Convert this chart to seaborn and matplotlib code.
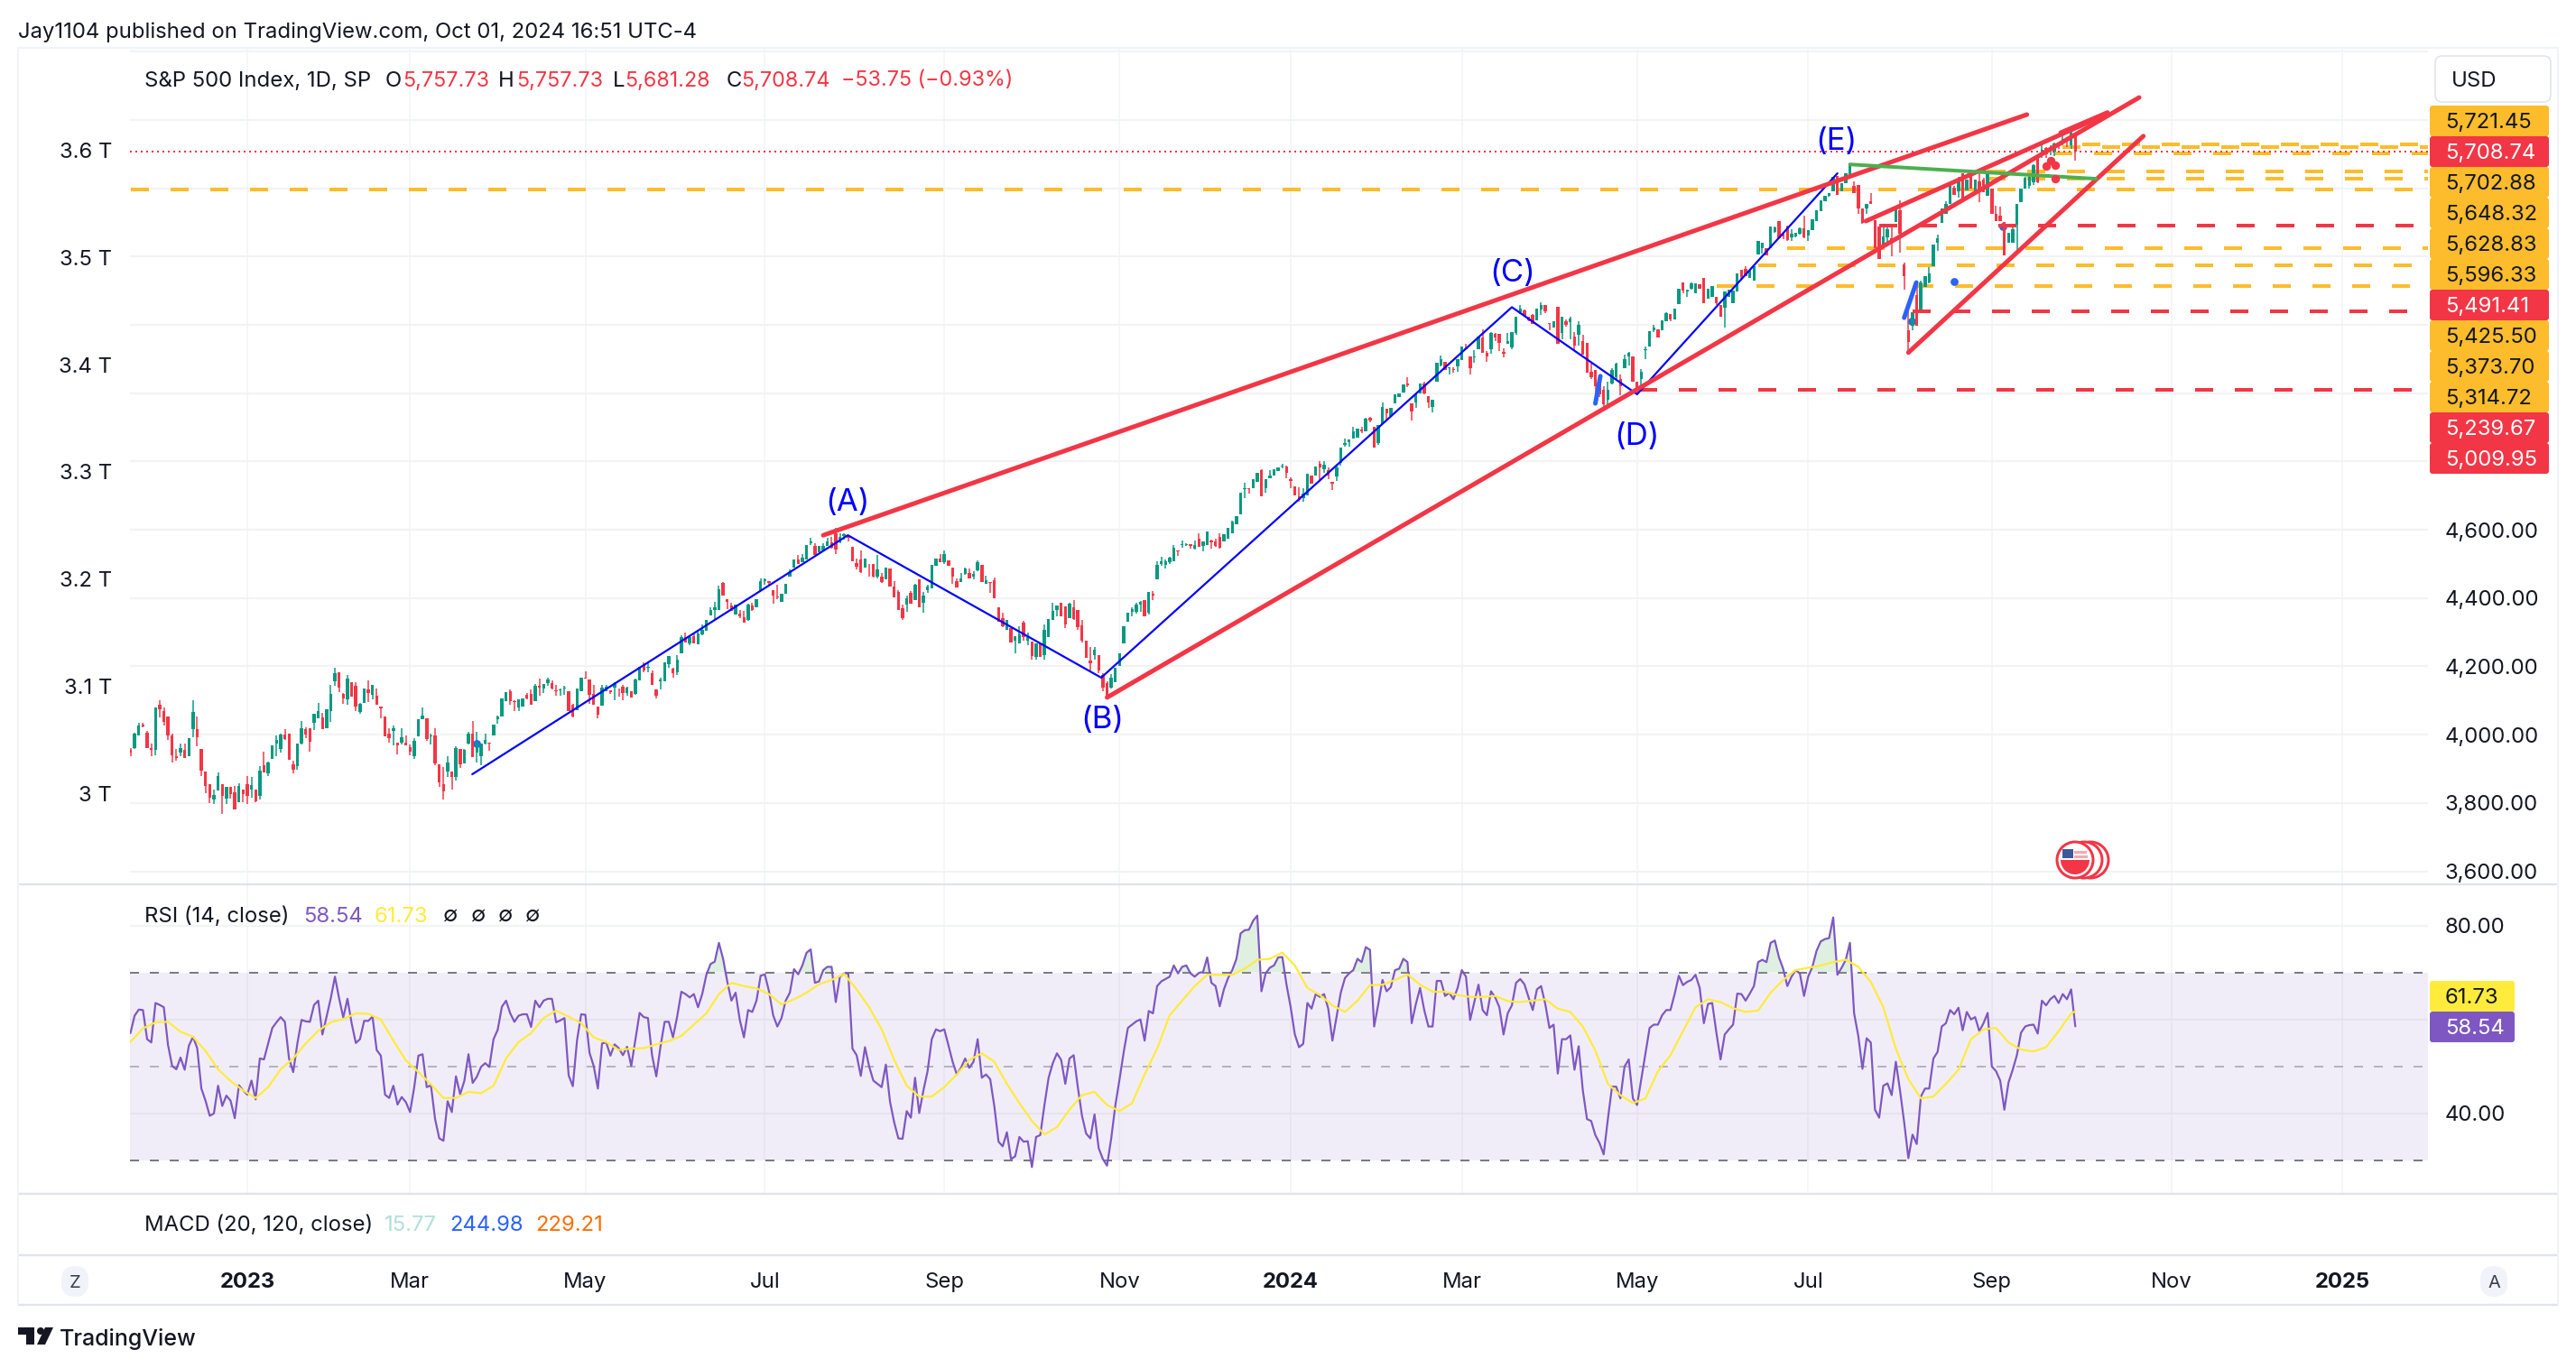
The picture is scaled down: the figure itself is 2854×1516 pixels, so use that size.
import numpy as np
import matplotlib
matplotlib.use("Agg")
import matplotlib.pyplot as plt
from matplotlib.patches import FancyBboxPatch, Rectangle, Circle, Wedge, Polygon
import seaborn as sns

# candles, ten bars per line, first bar sits 28 sessions before 3 Jan 2023
opens = [
    3956,3960,3999,4030,4006,3962,3956,4088,4070,4052,
    3997,3936,3947,3955,3938,4017,4015,3958,3892,3854,
    3809,3837,3854,3813,3846,3831,3803,3839,3854,3839,
    3839,3822,3910,3888,3930,3974,3958,4000,4002,3912,
    3907,3975,4015,4018,4035,4048,4050,4019,4068,4155,
    4182,4118,4103,4154,4142,4066,4092,4133,4116,4113,
    4081,4053,4002,4011,3977,3977,3977,3964,3938,3996,
    4046,4048,3995,3997,3912,3855,3892,3892,3875,3958,
    3917,3973,4002,3947,3936,3974,3977,3997,4046,4053,
    4098,4127,4098,4079,4082,4116,4120,4098,4142,4135,
    4151,4151,4131,4130,4135,4126,4088,4072,4127,4168,
    4162,4120,4081,4085,4127,4130,4138,4136,4140,4123,
    4127,4120,4158,4206,4196,4180,4133,4155,4155,4206,
    4193,4182,4239,4287,4267,4289,4265,4294,4305,4350,
    4365,4364,4444,4397,4377,4353,4355,4344,4336,4377,
    4372,4421,4450,4450,4423,4406,4390,4412,4464,4488,
    4512,4504,4514,4561,4552,4534,4539,4552,4563,4591,
    4563,4581,4581,4549,4502,4512,4490,4501,4499,4463,
    4463,4454,4486,4434,4419,4370,4380,4416,4394,4456,
    4386,4423,4429,4495,4517,4505,4511,4488,4449,4447,
    4471,4473,4464,4482,4497,4443,4447,4453,4374,4342,
    4307,4313,4274,4267,4329,4276,4272,4228,4266,4232,
    4287,4337,4364,4386,4375,4342,4374,4364,4320,4274,
    4216,4232,4232,4174,4152,4137,4154,4200,4267,4331,
    4359,4359,4381,4393,4357,4412,4456,4500,4496,4505,
    4509,4540,4556,4556,4558,4544,4574,4553,4556,4568,
    4567,4580,4567,4575,4591,4615,4644,4718,4723,4723,
    4741,4776,4721,4752,4759,4771,4785,4785,4747,4727,
    4699,4694,4701,4758,4758,4793,4778,4774,4741,4756,
    4796,4850,4857,4866,4869,4893,4888,4928,4901,4853,
    4910,4954,4932,4969,4989,5001,5029,4970,4974,5000,
    5029,4991,4961,5035,5082,5093,5073,5071,5079,5097,
    5132,5108,5106,5130,5164,5119,5129,5173,5173,5122,
    5146,5135,5176,5236,5242,5223,5229,5214,5244,5259,
    5206,5193,5254,5177,5210,5208,5166,5170,5153,5148,
    5064,5069,5034,5011,4981,5029,5047,5042,5073,5109,
    5109,5034,5042,5126,5138,5185,5188,5184,5210,5232,
    5217,5260,5325,5298,5305,5294,5318,5338,5278,5281,
    5281,5259,5250,5281,5263,5298,5362,5365,5338,5329,
    5406,5426,5426,5426,5473,5503,5466,5488,5457,5459,
    5468,5484,5462,5477,5503,5532,5563,5577,5590,5637,
    5590,5616,5638,5607,5609,5541,5541,5563,5506,5488,
    5429,5457,5453,5501,5537,5378,5185,5197,5288,5237,
    5312,5325,5373,5440,5500,5526,5554,5603,5590,5643,
    5594,5643,5590,5620,5625,5579,5599,5526,5519,5501,
    5440,5440,5494,5559,5599,5607,5617,5689,5702,5719,
    5707,5708,5730,5733,5745,5727,5757.73,
]
highs = [
    3962,4006,4034,4034,4012,3975,4079,4100,4079,4052,
    4002,3958,3974,3975,3989,4100,4053,3958,3892,3854,
    3840,3890,3854,3848,3848,3851,3857,3839,3879,3875,
    3839,3907,3949,3921,3969,3997,4002,4015,4002,3923,
    3974,4039,4021,4018,4060,4094,4063,4075,4146,4195,
    4182,4123,4175,4154,4154,4094,4136,4158,4146,4136,
    4081,4053,4018,4028,3977,4018,3997,3971,3989,4046,
    4079,4048,4002,4018,3912,3905,3936,3892,3967,3958,
    3958,4008,4040,4008,3973,4002,3977,4030,4056,4107,
    4125,4132,4100,4104,4107,4123,4133,4149,4163,4149,
    4168,4158,4146,4136,4142,4126,4090,4136,4168,4186,
    4162,4146,4081,4147,4145,4130,4154,4136,4145,4140,
    4127,4164,4199,4212,4208,4187,4133,4167,4211,4230,
    4197,4234,4291,4300,4288,4300,4302,4323,4337,4372,
    4390,4437,4448,4397,4387,4381,4365,4362,4383,4386,
    4396,4457,4457,4450,4423,4438,4412,4442,4485,4512,
    4526,4530,4556,4576,4561,4552,4561,4576,4578,4605,
    4590,4591,4584,4549,4517,4539,4517,4501,4501,4526,
    4473,4488,4486,4450,4422,4381,4408,4420,4443,4456,
    4418,4438,4498,4517,4530,4539,4511,4488,4457,4473,
    4488,4486,4478,4511,4497,4465,4447,4460,4374,4357,
    4337,4313,4289,4317,4333,4300,4272,4267,4266,4323,
    4339,4386,4377,4386,4375,4385,4395,4364,4337,4274,
    4256,4258,4232,4181,4157,4177,4195,4239,4318,4357,
    4373,4386,4392,4393,4418,4421,4507,4521,4514,4520,
    4556,4540,4568,4561,4558,4568,4589,4567,4596,4571,
    4575,4589,4587,4606,4626,4641,4708,4737,4723,4747,
    4767,4778,4749,4774,4778,4782,4794,4789,4753,4727,
    4725,4721,4763,4760,4785,4800,4802,4782,4741,4791,
    4841,4868,4864,4901,4895,4901,4928,4931,4901,4906,
    4974,4954,4957,4996,5000,5027,5047,4970,5000,5029,
    5035,4991,4981,5088,5110,5093,5077,5077,5100,5137,
    5146,5108,5126,5166,5188,5123,5179,5176,5173,5132,
    5176,5179,5225,5258,5245,5225,5232,5247,5265,5259,
    5206,5212,5254,5223,5215,5225,5179,5210,5170,5148,
    5087,5069,5051,5020,5034,5073,5088,5056,5113,5122,
    5109,5034,5071,5137,5181,5199,5188,5213,5238,5232,
    5247,5307,5325,5303,5325,5322,5318,5338,5307,5313,
    5281,5259,5298,5303,5300,5351,5362,5373,5360,5373,
    5447,5441,5426,5488,5488,5503,5466,5490,5479,5471,
    5485,5521,5477,5509,5535,5566,5577,5585,5634,5637,
    5616,5643,5669,5620,5609,5541,5554,5585,5506,5488,
    5488,5486,5488,5550,5565,5382,5245,5237,5329,5329,
    5343,5369,5435,5464,5541,5561,5606,5606,5634,5643,
    5625,5643,5625,5643,5632,5650,5599,5550,5546,5501,
    5470,5497,5554,5599,5634,5636,5670,5689,5733,5720,
    5725,5735,5730,5767,5750,5767,5757.73,
]
lows = [
    3936,3958,3997,4021,3960,3938,3940,4050,4026,3984,
    3918,3923,3936,3932,3938,3993,3967,3879,3829,3800,
    3797,3837,3767,3798,3813,3782,3803,3803,3796,3816,
    3803,3811,3890,3879,3930,3938,3947,3984,3927,3888,
    3898,3971,3989,3951,4013,4048,4017,4019,4037,4142,
    4125,4091,4087,4111,4069,4061,4092,4096,4104,4087,
    4047,3995,3977,3969,3943,3971,3969,3939,3929,3996,
    4046,3982,3971,3910,3848,3811,3875,3839,3866,3903,
    3917,3971,3934,3918,3911,3971,3953,3997,4032,4053,
    4098,4087,4070,4069,4082,4103,4088,4098,4114,4122,
    4142,4133,4114,4114,4116,4069,4050,4072,4127,4164,
    4089,4088,4047,4085,4127,4119,4101,4112,4101,4114,
    4110,4116,4158,4182,4182,4145,4106,4132,4155,4195,
    4168,4174,4239,4269,4263,4266,4265,4292,4305,4349,
    4337,4364,4408,4368,4362,4353,4342,4327,4333,4362,
    4372,4421,4440,4436,4384,4397,4390,4412,4463,4488,
    4499,4504,4514,4556,4526,4534,4537,4552,4546,4530,
    4561,4572,4565,4508,4484,4473,4490,4463,4460,4458,
    4445,4454,4434,4403,4364,4337,4361,4384,4394,4374,
    4358,4416,4429,4495,4505,4499,4495,4443,4431,4447,
    4469,4457,4454,4480,4447,4443,4415,4400,4330,4316,
    4307,4269,4239,4267,4276,4261,4219,4221,4228,4221,
    4287,4337,4346,4346,4313,4342,4337,4307,4271,4225,
    4188,4221,4181,4128,4104,4135,4154,4200,4267,4331,
    4346,4355,4359,4346,4353,4395,4456,4494,4487,4500,
    4509,4524,4547,4554,4545,4542,4549,4538,4556,4546,
    4551,4546,4567,4575,4591,4615,4644,4694,4706,4723,
    4741,4697,4709,4751,4759,4771,4781,4752,4723,4700,
    4683,4683,4701,4736,4758,4741,4767,4749,4716,4743,
    4789,4844,4844,4866,4869,4882,4888,4915,4842,4850,
    4910,4919,4932,4969,4989,5001,5018,4921,4956,5000,
    4996,4956,4945,5035,5078,5069,5055,5060,5062,5097,
    5129,5055,5090,5130,5117,5091,5115,5153,5123,5104,
    5146,5130,5170,5232,5227,5212,5203,5214,5229,5235,
    5184,5193,5144,5157,5195,5159,5126,5140,5113,5060,
    5042,4994,4989,4952,4967,5025,5042,4994,5073,5082,
    5034,5000,5011,5101,5138,5179,5164,5184,5210,5212,
    5217,5260,5294,5283,5303,5294,5307,5263,5278,5281,
    5259,5223,5192,5281,5263,5298,5329,5343,5338,5329,
    5406,5408,5404,5426,5470,5453,5452,5445,5447,5456,
    5465,5453,5447,5477,5503,5532,5563,5575,5590,5581,
    5590,5616,5638,5585,5525,5497,5524,5554,5426,5393,
    5429,5435,5400,5501,5411,5303,5122,5185,5197,5237,
    5312,5323,5373,5418,5500,5526,5554,5581,5572,5563,
    5594,5599,5590,5559,5588,5579,5526,5503,5504,5404,
    5440,5440,5406,5559,5599,5600,5610,5615,5690,5690,
    5698,5695,5715,5725,5720,5715,5681.28,
]
closes = [
    3947,4004,4026,4025,3960,3955,4079,4074,4037,3997,
    3940,3932,3962,3933,3989,4067,3993,3895,3851,3816,
    3824,3879,3822,3846,3826,3782,3849,3826,3822,3853,
    3804,3895,3890,3918,3969,3984,4000,3987,3927,3898,
    3974,4018,4000,3980,4060,4070,4017,4075,4118,4179,
    4138,4107,4163,4111,4081,4091,4136,4123,4146,4087,
    4078,3995,3990,4018,3969,3993,3969,3951,3982,4046,
    4055,3986,3997,3917,3861,3835,3918,3875,3962,3914,
    3955,4004,3934,3980,3973,3984,3974,4030,4053,4107,
    4125,4098,4096,4104,4107,4107,4088,4144,4138,4149,
    4161,4136,4127,4133,4139,4069,4052,4136,4168,4164,
    4116,4088,4059,4138,4140,4125,4149,4134,4123,4138,
    4110,4162,4199,4189,4198,4145,4114,4162,4211,4230,
    4180,4221,4285,4269,4285,4266,4296,4307,4337,4365,
    4372,4425,4408,4390,4362,4381,4346,4327,4381,4365,
    4396,4450,4456,4444,4407,4402,4412,4442,4477,4512,
    4499,4519,4556,4565,4527,4552,4554,4565,4548,4541,
    4580,4587,4576,4508,4491,4475,4517,4499,4463,4485,
    4447,4488,4434,4403,4366,4342,4399,4384,4440,4374,
    4408,4435,4498,4517,4505,4530,4495,4463,4431,4458,
    4486,4457,4471,4506,4447,4453,4444,4400,4330,4318,
    4337,4269,4289,4294,4287,4285,4230,4267,4228,4307,
    4339,4362,4377,4346,4324,4383,4339,4315,4276,4225,
    4210,4249,4188,4137,4108,4166,4195,4239,4318,4357,
    4368,4380,4389,4346,4417,4408,4496,4507,4509,4518,
    4547,4538,4558,4559,4553,4556,4549,4567,4596,4562,
    4553,4547,4587,4606,4624,4641,4708,4723,4718,4747,
    4767,4697,4747,4758,4778,4782,4789,4767,4744,4700,
    4688,4707,4763,4736,4785,4782,4791,4760,4736,4782,
    4840,4855,4864,4888,4895,4888,4926,4921,4842,4906,
    4959,4941,4957,4996,5000,5027,5023,4947,4998,5029,
    5000,4972,4981,5088,5100,5069,5077,5069,5100,5137,
    5129,5073,5108,5166,5119,5108,5176,5164,5148,5115,
    5152,5179,5225,5249,5227,5214,5203,5247,5259,5241,
    5203,5212,5144,5223,5200,5219,5140,5201,5113,5060,
    5047,5020,4998,4967,5011,5069,5087,5020,5100,5117,
    5034,5011,5064,5130,5181,5192,5164,5213,5235,5215,
    5247,5307,5300,5303,5323,5322,5307,5263,5307,5313,
    5263,5223,5298,5303,5300,5351,5340,5343,5360,5373,
    5447,5441,5404,5488,5486,5453,5459,5449,5468,5471,
    5482,5457,5477,5509,5535,5566,5577,5585,5634,5581,
    5616,5643,5669,5585,5541,5500,5554,5554,5426,5393,
    5459,5479,5440,5550,5466,5343,5150,5237,5197,5325,
    5343,5351,5435,5455,5541,5554,5606,5581,5625,5563,
    5625,5599,5625,5590,5588,5650,5526,5503,5504,5404,
    5470,5480,5554,5599,5630,5634,5669,5618,5714,5700,
    5718,5732,5722,5745,5738,5762,5708.74,
]

rsi_values = [
    57.1,60.8,62.1,62.0,55.8,55.1,63.5,63.1,62.6,54.6,
    50.1,49.4,51.9,49.3,54.4,56.3,53.9,45.3,42.7,39.5,
    40.0,45.9,41.6,43.8,42.7,39.0,46.0,44.9,44.0,47.0,
    43.0,51.7,51.5,54.9,58.2,59.4,60.5,59.5,51.7,48.8,
    54.9,59.9,59.6,59.5,63.1,64.0,56.8,60.6,64.5,69.1,
    64.5,60.4,64.4,59.2,55.0,55.8,59.7,59.7,60.6,53.5,
    52.3,44.0,43.3,45.9,41.9,43.5,42.4,40.3,45.6,52.3,
    52.6,45.6,46.0,38.8,34.7,34.2,42.6,40.3,47.9,44.1,
    46.9,52.6,46.5,47.8,49.9,50.7,49.9,55.8,57.8,62.7,
    64.0,61.3,59.5,60.8,61.1,61.1,58.4,64.0,62.6,64.0,
    64.4,64.4,59.4,59.8,60.3,48.1,45.8,55.5,61.1,61.0,
    52.9,50.1,45.3,54.9,55.1,52.3,54.7,53.9,52.4,54.2,
    50.1,55.8,61.4,60.5,60.3,52.3,47.9,54.2,59.5,59.5,
    56.2,60.6,65.9,65.4,64.7,65.4,62.6,65.4,69.5,71.8,
    72.3,76.3,72.9,68.1,64.0,65.7,59.9,56.2,62.0,61.6,
    64.0,69.3,69.6,66.0,60.9,58.5,60.3,64.0,65.7,70.7,
    69.6,71.5,74.2,74.9,67.8,68.1,70.5,71.2,71.2,63.7,
    69.1,69.8,69.8,53.8,52.4,48.0,54.1,50.0,47.0,46.3,
    45.6,50.4,42.5,38.1,34.7,34.6,40.5,39.1,47.6,40.1,
    44.9,49.0,55.8,57.9,57.5,57.9,54.5,51.0,48.3,49.7,
    51.7,49.7,51.0,55.8,47.6,48.3,47.3,41.5,34.0,33.0,
    36.0,30.3,30.9,35.0,34.0,34.1,28.6,35.0,35.4,41.8,
    47.6,50.7,52.8,51.4,46.3,51.7,52.4,45.6,39.5,35.7,
    34.7,39.8,32.6,30.3,28.9,34.7,41.8,47.3,53.1,58.2,
    58.9,59.6,60.0,55.5,61.8,61.3,67.1,68.1,68.6,69.1,
    71.5,69.8,71.2,71.5,69.8,69.1,69.9,70.1,73.2,67.8,
    67.1,62.8,66.4,68.8,70.5,72.9,78.3,79.0,79.1,81.0,
    82.1,66.0,69.8,71.0,71.5,73.2,73.3,67.4,62.6,56.8,
    54.1,54.8,63.5,62.3,65.4,64.8,65.4,62.3,55.5,60.6,
    65.7,68.8,69.8,70.5,72.9,72.2,75.4,74.8,58.5,63.3,
    68.4,66.0,66.9,70.5,70.8,72.9,72.2,59.2,63.3,66.7,
    62.0,58.5,58.5,68.2,68.2,65.0,65.7,64.3,66.7,70.5,
    69.1,59.9,63.7,67.4,62.0,60.9,66.0,64.7,62.6,56.8,
    61.3,63.0,67.8,68.6,67.5,64.7,62.0,66.4,67.1,63.3,
    58.2,58.9,48.5,55.8,55.8,56.6,49.3,54.3,44.9,38.8,
    38.4,35.4,33.7,31.3,38.8,45.7,45.7,43.2,50.0,51.5,
    43.2,41.8,47.3,52.8,58.2,58.9,58.9,60.9,62.0,62.0,
    65.4,69.3,67.3,68.0,68.4,69.5,66.7,59.2,63.3,63.5,
    57.2,51.5,56.8,57.9,58.9,65.5,65.4,64.0,65.5,67.1,
    72.2,72.7,72.2,76.3,76.8,73.2,70.8,67.1,69.1,70.5,
    69.8,65.0,69.1,71.2,74.6,76.6,77.1,77.3,81.7,69.5,
    71.0,72.7,76.3,61.3,56.5,49.5,56.0,55.1,40.8,39.1,
    45.9,46.4,43.9,51.0,44.9,38.1,30.5,35.5,33.5,43.6,
    45.3,45.3,51.7,53.1,58.5,59.2,62.0,61.1,62.5,57.7,
    61.6,60.0,60.5,57.5,59.2,61.4,50.0,49.0,47.0,40.8,
    46.6,49.3,52.4,57.2,58.5,58.8,58.9,57.0,64.0,63.0,
    64.3,65.0,63.5,65.4,64.3,66.4,58.54,
]
# signal line read at every third session, last point is the final bar
signal_values = [
    55.2,58.1,59.4,59.5,57.4,56.3,53.3,49.4,46.9,44.9,
    43.3,45.6,49.4,51.7,54.9,57.6,59.4,60.1,61.3,61.2,
    60.0,55.5,51.3,48.8,46.2,43.3,43.3,44.6,44.3,45.9,
    51.7,55.2,57.1,60.3,61.9,60.6,59.2,56.2,55.2,53.5,
    53.8,53.9,54.7,55.4,56.5,58.9,61.3,65.4,67.8,67.1,
    66.6,65.4,63.2,64.3,65.7,67.5,68.4,69.7,66.4,62.6,
    57.9,51.4,45.9,43.6,43.6,45.6,48.3,51.4,52.8,51.0,
    46.3,42.2,38.4,35.5,37.1,40.8,43.9,44.6,41.8,40.5,
    42.2,48.3,53.8,60.9,64.0,67.1,69.5,69.5,69.5,70.8,
    72.7,72.9,74.2,71.5,66.7,65.2,63.0,61.6,64.0,67.3,
    67.4,68.4,69.6,67.4,65.9,65.9,65.2,64.8,64.8,65.0,
    63.9,63.7,64.0,64.3,62.3,61.6,58.5,53.4,46.3,43.9,
    42.2,43.2,49.0,52.4,57.5,62.6,64.3,63.7,62.4,61.6,
    61.9,65.7,68.4,70.5,71.0,71.5,72.2,72.7,71.2,68.0,
    62.6,53.8,47.3,43.2,43.6,46.3,49.3,55.8,57.9,58.2,
    55.1,53.6,53.2,54.1,57.5,61.3,61.73,
]

# time axis
month_bars = [0, 39, 81, 124, 167, 209, 250, 291, 333, 374, 418, 461, 502]
month_labels = ["2023", "Mar", "May", "Jul", "Sep", "Nov", "2024", "Mar", "May", "Jul", "Sep", "Nov", "2025"]
year_labels = ["2023", "2024", "2025"]

# hand drawn tools, in bars and index points
wave_bars = [53.9, 143.9, 204.6, 303, 333, 381]
wave_prices = [3884, 4584, 4167, 5252, 4997, 5644]
wave_names = ["(A)", "(B)", "(C)", "(D)", "(E)"]
wave_name_bars = [143.8, 204.8, 303.2, 333, 380.8]
wave_name_prices = [4690, 4051, 5359, 4883, 5747]

red_trend_bars = [(138, 426.4), (206, 453.3), (387.8, 445.3), (398, 454.3), (434.5, 445.7)]
red_trend_prices = [(4584, 5816), (4109, 5866), (5504, 5816), (5119, 5753), (5763, 5822)]
green_bars = [384, 443]
green_prices = [5670, 5628]
blue_stroke_bars = [(323, 324.2), (397, 399.9)]
blue_stroke_prices = [(4970, 5050), (5221, 5324)]
blue_dot_bars = [55, 398.8, 409, 420.6]
blue_dot_prices = [3974, 5210, 5327, 5489]
red_dot_bars = [431, 433.2, 432.1, 433.2]
red_dot_prices = [5665, 5669, 5682, 5629]

gold_levels = [5729, 5721.45, 5702.88, 5648.32, 5628.83, 5596.33, 5425.50, 5373.70, 5314.72]
gold_starts = [435, 435, 433, 417, 417, -28, 369, 362, 352]
red_levels = [5491.41, 5239.67, 5009.95]
red_starts = [391, 399, 333.5]

last_price = 5708.74
price_tags = ["5,721.45", "5,708.74", "5,702.88", "5,648.32", "5,628.83", "5,596.33",
              "5,491.41", "5,425.50", "5,373.70", "5,314.72", "5,239.67", "5,009.95"]
tag_is_red = [False, True, False, False, False, False, True, False, False, False, True, True]

price_grid = [3600, 3800, 4000, 4200, 4400, 4600, 4800, 5000, 5200, 5400, 5600, 5800, 6000]
price_shown = ["3,600.00", "3,800.00", "4,000.00", "4,200.00", "4,400.00", "4,600.00", "", "", "", "", "", "", ""]
cap_ticks = [3.0, 3.1, 3.2, 3.3, 3.4, 3.5, 3.6]
cap_labels = ["3 T", "3.1 T", "3.2 T", "3.3 T", "3.4 T", "3.5 T", "3.6 T"]

W, H = 2854, 1516
DPI = 200
PX = 72 / DPI  # one picture pixel in points

UP = "#089981"
DOWN = "#F23645"
GOLD = "#FDBC2C"
INK = "#131722"
GRID = "#F2F3F5"
PURPLE = "#7E57C2"
YELLOW = "#FFEB3B"
FRAME = "#E0E3EB"

sns.set_theme(style="white", rc={"axes.facecolor": "none", "figure.facecolor": "white"})
plt.rcParams["font.family"] = ["Inter", "DejaVu Sans"]
plt.rcParams["axes.unicode_minus"] = False
FS = 8.6

fig = plt.figure(figsize=(W / DPI, H / DPI), dpi=DPI)


def pane(x0, y0, x1, y1):
    return fig.add_axes([x0 / W, 1 - y1 / H, (x1 - x0) / W, (y1 - y0) / H])


BAR_MIN, BAR_MAX = -28.11, 522.5

ax = pane(144, 53, 2690, 980)
rsi_ax = pane(144, 980, 2690, 1323)
time_ax = pane(144, 1391, 2690, 1446)

bars = np.arange(len(closes)) - 28
o, h, l, c = map(np.array, (opens, highs, lows, closes))
colors = np.where(c >= o, UP, DOWN)

# price pane
cap_ax = ax.twinx()
cap_ax.set_ylim(2.9149, 3.696)
cap_ax.set_yticks(cap_ticks)
cap_ax.set_yticklabels(cap_labels, fontsize=FS, color=INK, va="center_baseline")
cap_ax.yaxis.tick_left()
cap_ax.tick_params(axis="y", length=0, pad=20 * PX)
cap_ax.grid(False)
sns.despine(ax=cap_ax, left=True, bottom=True, right=True, top=True)

ax.set_xlim(BAR_MIN, BAR_MAX)
ax.set_ylim(3561.7, 6011.5)
ax.set_xticks(month_bars)
ax.set_yticks(price_grid)
ax.set_yticklabels(price_shown, fontsize=FS, color=INK, va="center_baseline")
ax.yaxis.tick_right()
ax.tick_params(axis="y", length=0, pad=19 * PX)
ax.tick_params(axis="x", length=0, labelbottom=False)
ax.grid(True, axis="y", color=GRID, linewidth=2.2 * PX)
ax.grid(True, axis="x", color="#F3F4F7", linewidth=1.6 * PX)
ax.set_axisbelow(True)
sns.despine(ax=ax, left=True, bottom=True, right=True, top=True)

dash = (0, (5, 6))
for level, start in zip(gold_levels, gold_starts):
    off = 5.5 if level == 5729 else 0
    ax.plot([start, BAR_MAX], [level, level], color=GOLD, lw=4 * PX,
            linestyle=(off, (5, 6)), zorder=2, solid_capstyle="butt")

ax.vlines(bars, l, h, colors=colors, linewidth=1.5 * PX, zorder=3)
ax.bar(bars, np.maximum(np.abs(c - o), 1.2), bottom=np.minimum(o, c), width=0.74,
       color=colors, linewidth=0, zorder=4)

for level, start in zip(red_levels, red_starts):
    ax.plot([start, BAR_MAX], [level, level], color=DOWN, lw=4 * PX, linestyle=dash, zorder=5)

ax.plot(wave_bars, wave_prices, color="#0000FF", lw=2.2 * PX, zorder=5)
for xs, ys in zip(red_trend_bars, red_trend_prices):
    ax.plot(xs, ys, color=DOWN, lw=5 * PX, zorder=6, solid_capstyle="round")
ax.plot(green_bars, green_prices, color="#4CAF50", lw=4 * PX, zorder=6)
for xs, ys in zip(blue_stroke_bars, blue_stroke_prices):
    ax.plot(xs, ys, color="#2962FF", lw=5 * PX, zorder=6, solid_capstyle="round")
sns.scatterplot(x=blue_dot_bars, y=blue_dot_prices, ax=ax, color="#2962FF", s=(8 * PX) ** 2 * 1.2,
                linewidth=0, zorder=3)
sns.scatterplot(x=red_dot_bars, y=red_dot_prices, ax=ax, color=DOWN, s=(8 * PX) ** 2 * 1.4,
                linewidth=0, zorder=7)
ax.axhline(last_price, color=DOWN, lw=2 * PX, linestyle=(0, (1, 2)), zorder=7)
for name, x, y in zip(wave_names, wave_name_bars, wave_name_prices):
    ax.text(x, y, name, color="#0000FF", fontsize=12.5, ha="center", va="center_baseline", zorder=8)

# rsi pane
rsi_bars = np.arange(len(rsi_values)) - 28
signal_bars = list(range(-28, 438, 3)) + [438]
rsi = np.array(rsi_values)
rsi_ax.set_xlim(BAR_MIN, BAR_MAX)
rsi_ax.set_ylim(22.9, 88.75)
rsi_ax.set_xticks(month_bars)
rsi_ax.set_yticks([40, 60, 80])
rsi_ax.set_yticklabels(["40.00", "", "80.00"], fontsize=FS, color=INK, va="center_baseline")
rsi_ax.yaxis.tick_right()
rsi_ax.tick_params(axis="y", length=0, pad=19 * PX)
rsi_ax.tick_params(axis="x", length=0, labelbottom=False)
rsi_ax.grid(True, axis="y", color=GRID, linewidth=2.2 * PX)
rsi_ax.grid(True, axis="x", color="#F3F4F7", linewidth=1.6 * PX)
rsi_ax.set_axisbelow(True)
sns.despine(ax=rsi_ax, left=True, bottom=True, right=True, top=True)
rsi_ax.axhspan(30, 70, color=PURPLE, alpha=0.1, linewidth=0, zorder=1)
rsi_ax.axhline(70, color="#787B86", lw=2 * PX, linestyle=dash, zorder=2)
rsi_ax.axhline(30, color="#787B86", lw=2 * PX, linestyle=dash, zorder=2)
rsi_ax.axhline(50, color="#B2B5BE", lw=2 * PX, linestyle=dash, zorder=2)
rsi_ax.fill_between(rsi_bars, rsi, 70, where=rsi > 70, interpolate=True, color="#A5D6A7",
                    alpha=0.35, linewidth=0, zorder=2)
sns.lineplot(x=rsi_bars, y=rsi_values, ax=rsi_ax, color=PURPLE, linewidth=2.2 * PX,
             estimator=None, sort=False, zorder=3)
sns.lineplot(x=signal_bars, y=signal_values, ax=rsi_ax, color=YELLOW, linewidth=2.2 * PX,
             estimator=None, sort=False, zorder=4)
rsi_ax.set_xlabel("")
rsi_ax.set_ylabel("")

# time scale
time_ax.set_xlim(BAR_MIN, BAR_MAX)
time_ax.set_ylim(0, 1)
time_ax.axis("off")
for bar, label in zip(month_bars, month_labels):
    time_ax.text(bar, 0.5, label, ha="center", va="center_baseline", fontsize=FS, color=INK,
                 fontweight="bold" if label in year_labels else "normal")

# everything around the panes, in picture pixels
ov = fig.add_axes([0, 0, 1, 1], zorder=10)
ov.set_xlim(0, W)
ov.set_ylim(H, 0)
ov.axis("off")


def txt(x, y, s, color=INK, ha="left", size=FS, **kw):
    ov.text(x, y, s, color=color, ha=ha, va="center_baseline", fontsize=size, **kw)


def tag(x0, y0, x1, y1, fill, s, color):
    ov.add_patch(FancyBboxPatch((x0, y0), x1 - x0, y1 - y0, boxstyle="round,pad=0,rounding_size=3",
                                facecolor=fill, edgecolor="none"))
    txt(x0 + 17, (y0 + y1) / 2, s, color=color)


for yy in [53, 980, 1323, 1391, 1446]:
    ov.plot([20, 2834], [yy, yy], color=FRAME if yy != 53 else "#F0F3FA", lw=2.4 * PX)
for xx in [20, 2834]:
    ov.plot([xx, xx], [53, 1446], color="#F0F3FA", lw=2 * PX)

txt(20, 33, "Jay1104 published on TradingView.com, Oct 01, 2024 16:51 UTC-4")
txt(160, 87, "S&P 500 Index, 1D, SP")
for x, s in zip([427, 552, 679, 805], ["O", "H", "L", "C"]):
    txt(x, 87, s)
for x, s in zip([446, 572, 692, 821, 932],
                ["5,757.73", "5,757.73", "5,681.28", "5,708.74", "\u221253.75 (\u22120.93%)"]):
    txt(x, 87, s, color=DOWN, size=8.4)

ov.add_patch(FancyBboxPatch((2698, 62), 128, 51, boxstyle="round,pad=0,rounding_size=8",
                            facecolor="white", edgecolor=FRAME, linewidth=1.6 * PX))
txt(2741, 87, "USD", ha="center")

for n, (s, red) in enumerate(zip(price_tags, tag_is_red)):
    y0 = 117 + 34 * n
    tag(2692, y0, 2824, y0 + 34, DOWN if red else GOLD, s, "white" if red else INK)

txt(160, 1013, "RSI (14, close)")
txt(336, 1013, "58.54", color=PURPLE)
txt(415, 1013, "61.73", color=YELLOW)
for x in [491, 522, 552, 582]:
    txt(x, 1013, "\u2205")
tag(2692, 1087, 2786, 1121, YELLOW, "61.73", INK)
tag(2692, 1121, 2786, 1155, PURPLE, "58.54", "white")

txt(160, 1355, "MACD (20, 120, close)")
txt(426, 1355, "15.77", color="#B2DFDB")
txt(498, 1355, "244.98", color="#2962FF")
txt(593, 1355, "229.21", color="#FF6D00")

for cx, s in [(83, "Z"), (2763, "A")]:
    ov.add_patch(FancyBboxPatch((cx - 15, 1403), 30, 34, boxstyle="round,pad=0,rounding_size=15",
                                facecolor="#F0F3FA", edgecolor="none"))
    txt(cx, 1420, s, ha="center", size=7.2, color="#3A3E4A")

# exchange flag marker
for cx in [2316, 2309]:
    ov.add_patch(Circle((cx, 953), 20, facecolor="white", edgecolor=DOWN, linewidth=3 * PX))
ov.add_patch(Circle((2299, 953), 20, facecolor="white", edgecolor=DOWN, linewidth=3 * PX))
ov.add_patch(Wedge((2299, 953), 16, 0, 180, facecolor=DOWN, edgecolor="none"))
ov.add_patch(Rectangle((2285, 941), 12, 10, facecolor="#3D5A98", edgecolor="none"))
ov.add_patch(Rectangle((2298, 943), 14, 2.5, facecolor="#F7A8AE", edgecolor="none"))
ov.add_patch(Rectangle((2298, 948), 15, 2.5, facecolor="#F7A8AE", edgecolor="none"))

# TradingView mark and name
ov.add_patch(Polygon([(20, 1471), (38, 1471), (38, 1490), (29, 1490), (29, 1479), (20, 1479)],
                     facecolor=INK, edgecolor="none"))
ov.add_patch(Circle((45, 1475), 4, facecolor=INK, edgecolor="none"))
ov.add_patch(Polygon([(41, 1490), (50, 1471), (59, 1471), (50, 1490)], facecolor=INK, edgecolor="none"))
txt(66, 1481, "TradingView", size=9.0, fontweight="medium")

fig.savefig("out.png", dpi=DPI)
